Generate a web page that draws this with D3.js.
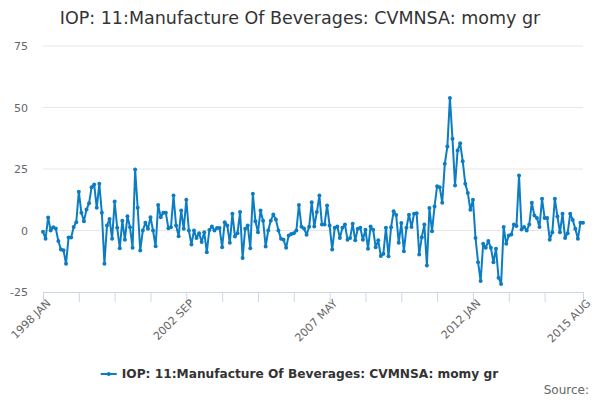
<!DOCTYPE html>
<html lang="en">
<head>
    <meta charset="UTF-8">
    <title>IOP: 11:Manufacture Of Beverages</title>
    <script src="https://d3js.org/d3.v7.min.js"></script>
    <style>
        body { margin: 0; background: #fff; }
        text { font-family: "DejaVu Sans", sans-serif; }
    </style>
</head>
<body>

<svg width="600" height="400"></svg>

<script>

    // series: monthly values, 1998 JAN .. 2015 AUG
    var startYear = 1998;
    var values = [
        -0.5, -3.4, 5.3, 0, 1.3, 0.8, -4.3, -7.7, -8, -13.5, -2.8, -2.8,
        1.4, 3.4, 15.8, 7.2, 3.8, 8.5, 11.1, 17.6, 18.7, 9.2, 19, 7.2,
        -13.5, 2, 4.7, -3.4, 11.8, 1.1, -7.2, 4, -3.8, 5.8, 1.3, -7,
        24.8, 9.2, -8.1, 0, 3.1, 0.7, 5.4, 0, -6.4, 10.4, 5.4, 7.2,
        7.2, 0.9, 1.3, 14.2, 2, -2.3, 8.1, 0.7, 12.5, 0, -5.7, 0,
        -3, -1.1, -4.7, -0.7, -8.8, 0.2, 1.6, 0, 1, 1, -6.8, 3.4,
        2, -5, 6.8, -2.4, -1.1, 7.5, -11.2, 0.7, 2, -7.2, 14.9, 3.8,
        -0.7, 8.1, 4, -6.5, 0, 4, 6.5, 4.5, 0, -3.4, -3.8, -7,
        -2, -1.4, -1.1, 0, 10.4, 1.5, 0.8, -1.7, 1.5, 11.5, 1.6, 7.5,
        14.2, 2.4, 2.4, 10.2, 2, -7.7, 1.1, 1.6, -3, 1.1, 2.4, -3.8,
        -3, 2.7, -4, 0.7, 1.1, -3.8, 0.3, -7.4, 1.6, 0.3, -6.8, -4,
        -10.4, -9.5, 1.1, -10.5, 1.3, 7.8, 6.3, -5, 3, -8.4, 1.1, 6.4,
        1.4, 6.8, 7, -9.8, -2.7, 2.4, -14.2, 9.1, -0.3, 9.8, 18, 17.6,
        11.3, 27.1, 34.1, 53.9, 37.3, 18.3, 32.5, 35.5, 28.2, 19, 15.2, 8.4,
        12.5, -3, -12.9, -20.5, -5.4, -7, -4.3, -7, -12.9, -7.4, -19.2, -21.7,
        1.4, -5.4, -2, -1.6, 2.4, 1.8, 22.4, 0.4, 1.4, 0, 2.4, 11.3,
        6.1, 5.1, 1.4, 12.9, 5.1, 5.1, -3.8, -0.7, 12.9, 5.7, -0.7, 6.8,
        -3, -1.1, 6.8, 4.3, 0.7, -3.4, 3.1, 3.1
    ];
    var monthNames = ['JAN','FEB','MAR','APR','MAY','JUN','JUL','AUG','SEP','OCT','NOV','DEC'];
    var yTicks = [-25, 0, 25, 50, 75];
    var xTickIdx = [0, 14, 28, 42, 56, 70, 84, 98, 112, 126, 140, 154, 168, 182, 196, 211];
    var xLabelIdx = [0, 56, 112, 168, 211];

    var titleText = 'IOP: 11:Manufacture Of Beverages: CVMNSA: momy gr';
    var color = '#0c7dc2';

    var svg = d3.select('svg');
    var width = +svg.attr('width');
    var height = +svg.attr('height');
    var margin = {left: 43, right: 17, top: 46, bottom: 108};

    function label(i) {
        return (startYear + Math.floor(i / 12)) + ' ' + monthNames[i % 12];
    }

    var x = d3.scaleLinear()
        .domain([0, values.length - 1])
        .range([margin.left, width - margin.right]);

    var y = d3.scaleLinear()
        .domain([-25, 75])
        .range([height - margin.bottom, margin.top]);

    // grid lines
    svg.append('g')
        .selectAll('line')
        .data(yTicks.filter(function (d) { return d > -25; }))
        .enter()
        .append('line')
        .attr('x1', x.range()[0])
        .attr('x2', x.range()[1])
        .attr('y1', function (d) { return y(d); })
        .attr('y2', function (d) { return y(d); })
        .attr('stroke', '#e6e6e6')
        .attr('stroke-width', 1);

    // y labels
    svg.append('g')
        .selectAll('text')
        .data(yTicks)
        .enter()
        .append('text')
        .attr('x', 28)
        .attr('y', function (d) { return y(d) + 4; })
        .attr('text-anchor', 'end')
        .attr('font-size', 11)
        .attr('fill', '#666')
        .text(function (d) { return d; });

    // x axis
    var xAxis = d3.axisBottom(x)
        .tickValues(xTickIdx)
        .tickSize(10)
        .tickSizeOuter(0)
        .tickFormat(function (d) { return xLabelIdx.indexOf(d) >= 0 ? label(d) : ''; });

    var gx = svg.append('g')
        .attr('transform', 'translate(0,' + y(-25) + ')')
        .call(xAxis);

    gx.select('.domain').attr('stroke', '#ccd6eb');
    gx.selectAll('.tick line').attr('stroke', '#ccd6eb');
    gx.selectAll('.tick text')
        .attr('font-family', '"DejaVu Sans", sans-serif')
        .attr('font-size', 11)
        .attr('fill', '#666')
        .attr('text-anchor', 'end')
        .attr('transform', 'translate(4,8) rotate(-45)')
        .attr('dy', '0.5em')
        .attr('y', 0)
        .attr('x', 0);

    // series line
    var line = d3.line()
        .x(function (d, i) { return x(i); })
        .y(function (d) { return y(d); });

    svg.append('path')
        .datum(values)
        .attr('d', line)
        .attr('fill', 'none')
        .attr('stroke', color)
        .attr('stroke-width', 2)
        .attr('stroke-linejoin', 'round');

    svg.append('g')
        .selectAll('circle')
        .data(values)
        .enter()
        .append('circle')
        .attr('cx', function (d, i) { return x(i); })
        .attr('cy', function (d) { return y(d); })
        .attr('r', 2)
        .attr('fill', color);

    // title
    svg.append('text')
        .attr('x', width / 2)
        .attr('y', 24)
        .attr('text-anchor', 'middle')
        .attr('font-size', 17.5)
        .attr('fill', '#333')
        .text(titleText);

    // legend
    var legend = svg.append('g').attr('transform', 'translate(0,374)');
    var lt = legend.append('text')
        .attr('x', 310)
        .attr('y', 4)
        .attr('text-anchor', 'middle')
        .attr('font-size', 12.2)
        .attr('font-weight', 'bold')
        .attr('fill', '#333')
        .text(titleText);
    var bb = lt.node().getBBox();
    legend.append('line')
        .attr('x1', bb.x - 21).attr('x2', bb.x - 5)
        .attr('y1', 0).attr('y2', 0)
        .attr('stroke', color).attr('stroke-width', 2);
    legend.append('circle')
        .attr('cx', bb.x - 13).attr('cy', 0).attr('r', 2)
        .attr('fill', color);

    // source
    svg.append('text')
        .attr('x', 589)
        .attr('y', 394)
        .attr('text-anchor', 'end')
        .attr('font-size', 12)
        .attr('fill', '#666')
        .text('Source:');

</script>
</body>
</html>
